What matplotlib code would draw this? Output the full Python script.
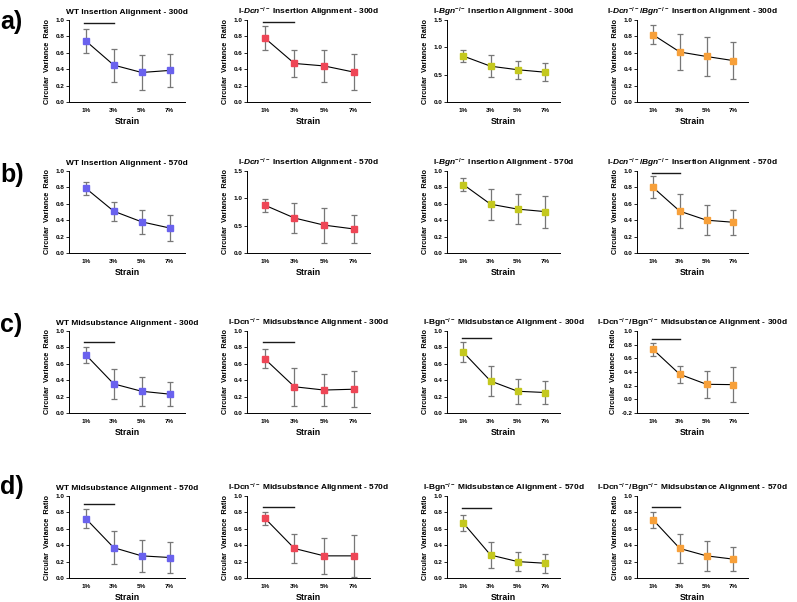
import numpy as np
import matplotlib.pyplot as plt

plt.rcParams['font.family'] = 'Liberation Sans'
plt.rcParams['font.weight'] = 'bold'
plt.rcParams['mathtext.fontset'] = 'custom'
plt.rcParams['mathtext.rm'] = 'Liberation Sans:bold'
plt.rcParams['mathtext.it'] = 'Liberation Sans:italic:bold'

strains = ['1%', '3%', '5%', '7%']
row_labels = ['a)', 'b)', 'c)', 'd)']

# order in every row: WT, Dcn, Bgn, Dcn/Bgn
ins300_titles = ['WT Insertion Alignment - 300d',
                 r'I-$\mathit{Dcn}^{\mathrm{-/-}}$ Insertion Alignment - 300d',
                 r'I-$\mathit{Bgn}^{\mathrm{-/-}}$ Insertion Alignment - 300d',
                 r'I-$\mathit{Dcn}^{\mathrm{-/-}}$/$\mathit{Bgn}^{\mathrm{-/-}}$ Insertion Alignment - 300d']
ins570_titles = ['WT Insertion Alignment - 570d',
                 r'I-$\mathit{Dcn}^{\mathrm{-/-}}$ Insertion Alignment - 570d',
                 r'I-$\mathit{Bgn}^{\mathrm{-/-}}$ Insertion Alignment - 570d',
                 r'I-$\mathit{Dcn}^{\mathrm{-/-}}$/$\mathit{Bgn}^{\mathrm{-/-}}$ Insertion Alignment - 570d']
mid300_titles = ['WT Midsubstance Alignment - 300d',
                 r'I-Dcn$^{\mathrm{-/-}}$ Midsubstance Alignment - 300d',
                 r'I-Bgn$^{\mathrm{-/-}}$ Midsubstance Alignment - 300d',
                 r'I-Dcn$^{\mathrm{-/-}}$/Bgn$^{\mathrm{-/-}}$ Midsubstance Alignment - 300d']
mid570_titles = ['WT Midsubstance Alignment - 570d',
                 r'I-Dcn$^{\mathrm{-/-}}$ Midsubstance Alignment - 570d',
                 r'I-Bgn$^{\mathrm{-/-}}$ Midsubstance Alignment - 570d',
                 r'I-Dcn$^{\mathrm{-/-}}$/Bgn$^{\mathrm{-/-}}$ Midsubstance Alignment - 570d']

ins300_mean = [[0.745, 0.45, 0.36, 0.385], [0.78, 0.47, 0.44, 0.365],
               [0.84, 0.655, 0.59, 0.545], [0.82, 0.61, 0.555, 0.505]]
ins300_sd = [[0.145, 0.20, 0.21, 0.205], [0.15, 0.16, 0.20, 0.22],
             [0.115, 0.20, 0.165, 0.16], [0.115, 0.215, 0.24, 0.23]]
ins570_mean = [[0.79, 0.51, 0.38, 0.305], [0.875, 0.64, 0.51, 0.44],
               [0.835, 0.595, 0.535, 0.505], [0.80, 0.51, 0.40, 0.375]]
ins570_sd = [[0.08, 0.115, 0.145, 0.16], [0.12, 0.28, 0.32, 0.26],
             [0.083, 0.188, 0.185, 0.195], [0.133, 0.21, 0.185, 0.15]]
mid300_mean = [[0.71, 0.355, 0.265, 0.23], [0.66, 0.32, 0.28, 0.29],
               [0.74, 0.39, 0.265, 0.25], [0.73, 0.366, 0.22, 0.215]]
mid300_sd = [[0.10, 0.18, 0.18, 0.15], [0.115, 0.23, 0.20, 0.22],
             [0.12, 0.185, 0.15, 0.135], [0.09, 0.125, 0.195, 0.255]]
mid570_mean = [[0.725, 0.37, 0.27, 0.25], [0.73, 0.36, 0.27, 0.27],
               [0.67, 0.28, 0.20, 0.18], [0.71, 0.36, 0.27, 0.23]]
mid570_sd = [[0.12, 0.205, 0.195, 0.19], [0.08, 0.18, 0.22, 0.26],
             [0.10, 0.155, 0.12, 0.115], [0.095, 0.18, 0.18, 0.15]]

# significance bar (1% vs 3%) level, None = no bar
ins300_sig = [0.96, 0.98, None, None]
ins570_sig = [None, None, None, 0.98]
mid300_sig = [0.87, 0.865, 0.91, 0.89]
mid570_sig = [0.90, 0.87, 0.85, 0.86]

ylims = [[(0, 1), (0, 1), (0, 1.5), (0, 1)],
         [(0, 1), (0, 1.5), (0, 1), (0, 1)],
         [(0, 1), (0, 1), (0, 1), (-0.2, 1)],
         [(0, 1), (0, 1), (0, 1), (0, 1)]]

colors = ['#6a62ee', '#ee4656', '#c4c81e', '#f7a03a']

rows = [(ins300_titles, ins300_mean, ins300_sd, ins300_sig),
        (ins570_titles, ins570_mean, ins570_sd, ins570_sig),
        (mid300_titles, mid300_mean, mid300_sd, mid300_sig),
        (mid570_titles, mid570_mean, mid570_sd, mid570_sig)]

W, H = 797, 602
fig = plt.figure(figsize=(W / 100, H / 100), dpi=100)

# axes boxes in pixels
lefts = [69, 247, 447, 637]
rights = [185, 370, 560, 748]
tops = [20, 171, 331, 496]
ht = 82
label_y = [22, 175, 325, 487]

x = np.arange(len(strains))
for r, (titles, means, sds, sigs) in enumerate(rows):
    fig.text(0.0, 1 - label_y[r] / H, row_labels[r], fontsize=18,
             fontweight='bold', va='center', ha='left')
    for c in range(4):
        ax = fig.add_axes([lefts[c] / W, 1 - (tops[r] + ht) / H,
                           (rights[c] - lefts[c]) / W, ht / H])
        line, caps, bars = ax.errorbar(x, means[c], yerr=sds[c], color='black',
                                       lw=0.8, marker='s', ms=4,
                                       mfc=colors[c], mec=colors[c],
                                       ecolor='#777777', elinewidth=0.9,
                                       capsize=2.5, capthick=0.9, zorder=3)
        for cap in caps:
            cap.set_color('black')
        if sigs[c] is not None:
            ax.plot([x[0] - 0.05, x[1]], [sigs[c], sigs[c]], color='#1a1a1a', lw=1.0)
        lo, hi = ylims[r][c]
        step = 0.5 if hi - lo > 1.3 else 0.2
        ax.set_ylim(lo, hi)
        ax.set_yticks(np.round(np.arange(lo, hi + 0.001, step), 2))
        ax.yaxis.set_major_formatter(plt.FormatStrFormatter('%.1f'))
        ax.set_xlim(-0.6, 3.55)
        ax.set_xticks(x)
        ax.set_xticklabels(strains)
        ax.tick_params(axis='both', labelsize=4.6, width=0.6, length=2, pad=1.5)
        ax.tick_params(axis='x', length=0, pad=4)
        for s in ['top', 'right']:
            ax.spines[s].set_visible(False)
        for s in ['left', 'bottom']:
            ax.spines[s].set_linewidth(0.7)
        ax.set_title(titles[c], fontsize=6, fontweight='bold', pad=4)
        ax.set_xlabel('Strain', fontsize=6.3, fontweight='bold', labelpad=3)
        ax.set_ylabel('Circular  Variance  Ratio', fontsize=5.3,
                      fontweight='bold', labelpad=3)

fig.savefig('out.png', dpi=100)
